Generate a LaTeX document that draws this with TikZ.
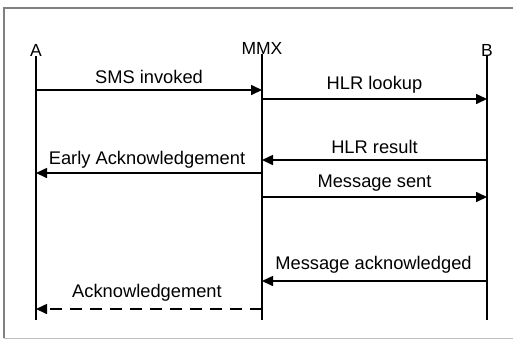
\documentclass[tikz,border=0pt]{standalone}
\usepackage{fontspec}
\setmainfont{Liberation Sans}
\usepackage{tikz}
\usetikzlibrary{arrows.meta}
\usetikzlibrary{calc}

\begin{document}
\begin{tikzpicture}[
    x=1pt, y=-1pt,
    lifeline/.style={line width=2pt},
    msg/.style={line width=1.6pt, -{Triangle[length=11pt,width=10pt]}},
    reply/.style={msg, dash pattern=on 12pt off 8pt},
    party/.style={inner sep=0pt, font=\fontsize{17.5}{18}\selectfont},
    every node/.style={color=black, font=\fontsize{18.3}{19}\selectfont}
    ]

    \useasboundingbox (0,0) rectangle (513,341);
    % frame
    \draw[line width=2pt, gray] (4,338) -- (4,8) -- (513,8);
    \draw[line width=1pt, black!25] (4,338) -- (513,338);

    % parties
    \node[party] (A) at (36,50) {A};
    \node[party] (M) at (262,48) {MMX};
    \node[party] (B) at (487,50) {B};
    \coordinate (Aend) at (36,320);
    \coordinate (Mend) at (262,320);
    \coordinate (Bend) at (487,320);
    \draw[lifeline] (A.south) -- (Aend);
    \draw[lifeline] (M.south) -- (Mend);
    \draw[lifeline] (B.south) -- (Bend);

    % define message ends
    \coordinate (a1) at (36,90);   \coordinate (m1) at (262,90);
    \coordinate (m2) at (262,99);  \coordinate (b2) at (487,99);
    \coordinate (b3) at (487,160); \coordinate (m3) at (262,160);
    \coordinate (m4) at (262,173); \coordinate (a4) at (36,173);
    \coordinate (m5) at (262,197); \coordinate (b5) at (487,197);
    \coordinate (b6) at (487,281); \coordinate (m6) at (262,281);
    \coordinate (m7) at (262,309); \coordinate (a7) at (36,309);

    % messages
    \draw[msg] (a1) -- (m1) node[midway, above=2pt] {SMS invoked};
    \draw[msg] (m2) -- (b2) node[midway, above=2pt] {HLR lookup};
    \draw[msg] (b3) -- (m3) node[midway, above=2pt] {HLR result};
    \draw[msg] (m4) -- (a4) node[midway, above=1pt, xshift=-2pt] {Early Acknowledgement};
    \draw[msg] (m5) -- (b5) node[midway, above=2pt] {Message sent};
    \draw[msg] (b6) -- (m6) node[midway, above=4pt, xshift=-1pt] {Message acknowledged};
    \draw[reply] (m7) -- (a7) node[midway, above=4pt, xshift=-2pt] {Acknowledgement};

\end{tikzpicture}
\end{document}
